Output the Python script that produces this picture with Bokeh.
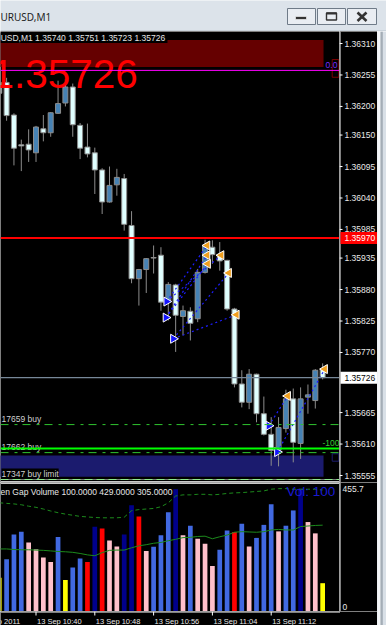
import math
from bokeh.plotting import figure
from bokeh.layouts import column, row
from bokeh.models import ColumnDataSource, Range1d, Span
from bokeh.core.properties import value
from bokeh.embed import file_html
from bokeh.resources import INLINE

FONT = "Liberation Sans"

# ------------------------------------------------------------------ data
# EURUSD one-minute bars, bar 0 = 13 Sep 2011 10:40
bar_index = list(range(-5, 40))
opens = [1.36242, 1.36242, 1.36185, 1.36133, 1.36134, 1.36119, 1.36161, 1.36154, 1.36188, 1.36206,
         1.36234, 1.36167, 1.36129, 1.36119, 1.36089, 1.36033, 1.36063, 1.36074, 1.35992, 1.35899,
         1.35915, 1.35936, 1.35940, 1.35860, 1.35888, 1.35833, 1.35842, 1.35829, 1.35910, 1.35954,
         1.35940, 1.35931, 1.35846, 1.35715, 1.35683, 1.35732, 1.35663, 1.35627, 1.35599, 1.35637,
         1.35689, 1.35611, 1.35692, 1.35686, 1.35740]
highs = [1.36250, 1.36250, 1.36188, 1.36142, 1.36160, 1.36166, 1.36185, 1.36190, 1.36245, 1.36248,
         1.36240, 1.36171, 1.36170, 1.36128, 1.36092, 1.36095, 1.36091, 1.36082, 1.36017, 1.35916,
         1.35935, 1.35957, 1.35954, 1.35893, 1.35890, 1.35852, 1.35849, 1.35916, 1.35967, 1.35966,
         1.35963, 1.35932, 1.35848, 1.35739, 1.35741, 1.35733, 1.35693, 1.35657, 1.35657, 1.35705,
         1.35707, 1.35709, 1.35714, 1.35741, 1.35751]
lows = [1.36215, 1.36175, 1.36097, 1.36087, 1.36103, 1.36103, 1.36139, 1.36147, 1.36187, 1.36200,
        1.36147, 1.36108, 1.36111, 1.36047, 1.36012, 1.36032, 1.36044, 1.35983, 1.35891, 1.35852,
        1.35874, 1.35908, 1.35843, 1.35826, 1.35771, 1.35800, 1.35791, 1.35823, 1.35908, 1.35925,
        1.35913, 1.35843, 1.35709, 1.35674, 1.35671, 1.35648, 1.35625, 1.35572, 1.35571, 1.35630,
        1.35578, 1.35584, 1.35663, 1.35672, 1.35723]
closes = [1.36223, 1.36184, 1.36127, 1.36131, 1.36124, 1.36164, 1.36154, 1.36189, 1.36205, 1.36234,
          1.36168, 1.36127, 1.36117, 1.36089, 1.36033, 1.36062, 1.36076, 1.35994, 1.35899, 1.35915,
          1.35934, 1.35935, 1.35858, 1.35889, 1.35835, 1.35843, 1.35821, 1.35910, 1.35957, 1.35941,
          1.35930, 1.35846, 1.35715, 1.35683, 1.35732, 1.35663, 1.35627, 1.35599, 1.35639, 1.35689,
          1.35613, 1.35689, 1.35696, 1.35739, 1.35726]

volumes = [119, 185, 272, 282, 244, 220, 191, 175, 263, 111,
           155, 187, 175, 299, 293, 251, 230, 272, 375, 336,
           214, 229, 269, 351, 432, 269, 303, 257, 239, 161,
           218, 286, 281, 310, 230, 260, 306, 379, 283, 303,
           357, 434, 316, 276, 100]
vol_kind = ["low", "up", "up", "up", "down", "down", "down", "down", "up", "low",
            "up", "up", "spike_down", "spike_up", "spike_down", "down", "down", "spike_up", "spike_up", "spike_down",
            "down", "up", "up", "up", "spike_up", "down", "up", "down", "down", "down",
            "up", "up", "spike_down", "up", "down", "up", "up", "up", "down", "up",
            "up", "spike_up", "down", "down", "low"]
vol_ma = [221, 221, 219, 218, 218, 217, 216, 214, 212, 211,
          209, 205, 200, 197, 208, 216, 217, 217, 225, 232,
          236, 241, 244, 250, 255, 261, 262, 265, 266, 257,
          264, 270, 280, 282, 281, 280, 282, 288, 290, 288,
          288, 300, 302, 304, 305]
vol_band = [384, 382, 380, 377, 372, 368, 362, 355, 349, 344,
            340, 336, 334, 332, 331, 331, 331, 333, 356, 360,
            362, 364, 370, 384, 408, 412, 412, 414, 414, 412,
            414, 417, 419, 420, 422, 424, 426, 432, 434, 434,
            432, 432, 432, 432, 429]
vol_max_label = 455.7
vol_header = "en Gap Volume 100.0000 429.0000 305.0000"
vol_last_text = "Vol: 100"

# time scale: bar positions of the labels
time_ticks = [-8, 0, 8, 16, 24, 32]
time_labels = ["13 Sep 2011", "13 Sep 10:40", "13 Sep 10:48", "13 Sep 10:56",
               "13 Sep 11:04", "13 Sep 11:12"]

price_ticks = [1.36310, 1.36255, 1.36200, 1.36150, 1.36095, 1.36040, 1.35985, 1.35935,
               1.35880, 1.35825, 1.35770, 1.35665, 1.35610, 1.35555]
header_text = "USD,M1  1.35740 1.35751 1.35723 1.35726"
bid_price = 1.35726
red_level = 1.35970
magenta_level = 1.36263

order_levels = [1.35644, 1.35595, 1.35548]
order_labels = ["17659 buy", "17662 buy", "17347 buy limit"]
stop_level = 1.35602
stop_label = "-100"

# trade arrows (bar position, price) and the entry -> exit links
entry_x = [17.76, 17.66, 18.67, 31.67, 32.82]
entry_p = [1.35859, 1.35831, 1.35794, 1.35642, 1.35596]
exit_x = [23.29, 23.29, 23.37, 25.20, 26.23, 27.28, 34.26, 39.29]
exit_p = [1.35957, 1.35940, 1.35925, 1.35940, 1.35909, 1.35836, 1.35694, 1.35741]
trade_links = [(0, 0), (0, 3), (1, 1), (1, 2), (2, 4), (2, 5), (3, 6), (4, 7)]

# rectangles drawn on the chart (time span in bars, price span)
top_box = dict(start=-10, end=39.12, low=1.36269, high=1.36316)
zone_box = dict(start=-10, end=39.12, low=1.35553, high=1.35590)

# ------------------------------------------------------------------ geometry
BAR_PX = 7.35                        # pixel width of one bar
X_START = -35.5 / BAR_PX             # left edge of the chart frame
X_END = X_START + 339 / BAR_PX       # right edge (frame 339 px wide)
PX_PER_PRICE = 57220.0
PRICE_TOP = 1.36310 + 12 / PX_PER_PRICE
PRICE_BOTTOM = PRICE_TOP - 451 / PX_PER_PRICE
VOL_FRAME_H = 129
px_v = vol_max_label / VOL_FRAME_H

xr = Range1d(X_START, X_END)
yr_price = Range1d(PRICE_BOTTOM, PRICE_TOP)
yr_vol = Range1d(0, vol_max_label)


def bare(width, height, xrange, yrange, bg="black"):
    p = figure(width=width, height=height, x_range=xrange, y_range=yrange,
               output_backend="svg", toolbar_location=None, x_axis_location=None,
               y_axis_location=None, min_border=0)
    p.background_fill_color = bg
    p.border_fill_color = bg
    p.outline_line_color = None
    p.grid.visible = False
    return p


# ------------------------------------------------------------------ title bar
title = bare(386, 31, Range1d(0, 386), Range1d(31, 0), "#dce3ea")
title.text(x=[0], y=[16], text=["URUSD,M1"], text_font=value("Noto Sans"),
           text_font_size="10px", text_color="#1e1e1e", text_baseline="middle")
title.quad(left=[287, 317, 347], right=[315, 345, 376], top=[8, 8, 8], bottom=[24, 24, 24],
           fill_color="#e9edf2", line_color="#6f7b88", line_width=1)
title.quad(left=[295], right=[306], top=[16], bottom=[19], fill_color="#333333",
           line_color="white", line_width=0.6)
title.quad(left=[326], right=[336], top=[12.5], bottom=[19.5], fill_color=None,
           line_color="#333333", line_width=1.4)
title.segment(x0=[326], y0=[13], x1=[336], y1=[13], line_color="#333333", line_width=2)
title.segment(x0=[357, 357], y0=[12, 20.5], x1=[366, 366], y1=[20.5, 12],
              line_color="#333333", line_width=2.6)
title.segment(x0=[0], y0=[30.5], x1=[386], y1=[30.5], line_color="#b9c3cd", line_width=1)

# ------------------------------------------------------------------ price pane
main = bare(339, 451, xr, yr_price)

main.quad(left=[top_box["start"]], right=[top_box["end"]], bottom=[top_box["low"]],
          top=[top_box["high"]], fill_color="#650000", line_color=None)
main.quad(left=[zone_box["start"]], right=[zone_box["end"]], bottom=[zone_box["low"]],
          top=[zone_box["high"]], fill_color="#1b1b6e", line_color=None)
main.quad(left=[40.3], right=[41.2], bottom=[1.36251], top=[1.36282], fill_color=None,
          line_color="#7a0000", line_width=1)
main.quad(left=[40.3], right=[41.2], bottom=[1.35580], top=[1.35593], fill_color=None,
          line_color="#1b1b6e", line_width=1)

main.add_layout(Span(location=magenta_level, dimension="width", line_color="#ff00ff", line_width=1))
main.add_layout(Span(location=red_level, dimension="width", line_color="#ff0000", line_width=2))
main.add_layout(Span(location=bid_price, dimension="width", line_color="#778899", line_width=1.2))
main.add_layout(Span(location=order_levels[0], dimension="width", line_color="#2fc42f",
                     line_width=1, line_dash="8 6 3 5"))
main.add_layout(Span(location=stop_level, dimension="width", line_color="#00ff00", line_width=2))
main.add_layout(Span(location=order_levels[1], dimension="width", line_color="#2fc42f",
                     line_width=1, line_dash="8 6 3 5"))
main.add_layout(Span(location=order_levels[2], dimension="width", line_color="#7d7d7d", line_width=1))
main.add_layout(Span(location=order_levels[2], dimension="width", line_color="#90ee90",
                     line_width=1, line_dash="8 4"))
main.add_layout(Span(location=PRICE_BOTTOM, dimension="width", line_color="#c8c8c8", line_width=3))

# candles
bull = [c >= o for o, c in zip(opens, closes)]
csrc = ColumnDataSource(dict(
    x=bar_index, high=highs, low=lows,
    top=[max(o, c) for o, c in zip(opens, closes)],
    bottom=[min(o, c) for o, c in zip(opens, closes)],
    fill=["#4682b4" if b else "#e0ffff" for b in bull]))
main.segment(x0="x", y0="low", x1="x", y1="high", source=csrc, line_color="#8c8c8c", line_width=1)
main.vbar(x="x", width=0.68, top="top", bottom="bottom", fill_color="fill", source=csrc,
          line_color="#8c8c8c", line_width=1)

# trades
tsrc = ColumnDataSource(dict(
    x0=[entry_x[a] for a, b in trade_links], y0=[entry_p[a] for a, b in trade_links],
    x1=[exit_x[b] for a, b in trade_links], y1=[exit_p[b] for a, b in trade_links]))
main.segment(x0="x0", y0="y0", x1="x1", y1="y1", source=tsrc, line_color="#1e1eff",
             line_width=1.2, line_dash="2 3")
main.scatter(x=entry_x, y=entry_p, marker="triangle", size=9, angle=-math.pi / 2,
             fill_color="#1414ff", line_color="white", line_width=1)
main.scatter(x=exit_x, y=exit_p, marker="triangle", size=9, angle=math.pi / 2,
             fill_color="#f0a020", line_color="white", line_width=1)

# texts
main.text(x=[X_START + 0.02], y=[1.363196], text=[header_text], text_font=value(FONT),
          text_font_size="8.5px", text_color="#e6e6e6", text_baseline="middle",
          background_fill_color="black")
main.text(x=[X_START - 9 / BAR_PX], y=[1.362567], text=["1.35726"], text_font=value(FONT),
          text_font_size="40.5px", text_color="#ff0000", text_baseline="middle")
main.text(x=[39.4], y=[1.36273], text=["0.0"], text_font=value(FONT), text_font_size="8.5px",
          text_color="#7b2cff", text_baseline="middle")
lbl_x = X_START + 1 / BAR_PX
main.text(x=[lbl_x] * 2, y=order_levels[:2], text=order_labels[:2], text_font=value(FONT),
          text_font_size="8.5px", text_color="#cfcfcf", text_baseline="bottom", y_offset=-1)
main.text(x=[lbl_x], y=[order_levels[2]], text=[order_labels[2]], text_font=value(FONT),
          text_font_size="8.5px", text_color="#cfcfcf", text_baseline="bottom", y_offset=-1,
          background_fill_color="black")
main.text(x=[38.98], y=[1.35611], text=[stop_label], text_font=value(FONT), text_font_size="8.5px",
          text_color="#33cc33", text_baseline="middle")

# ------------------------------------------------------------------ price scale strip
pstrip = bare(38, 451, Range1d(0, 38), yr_price)
pstrip.segment(x0=[0.5], y0=[PRICE_BOTTOM], x1=[0.5], y1=[PRICE_TOP], line_color="white",
               line_width=1)
pstrip.segment(x0=0, y0=price_ticks, x1=3, y1=price_ticks, line_color="white", line_width=1)
pstrip.text(x=5, y=price_ticks, text=[f"{t:.5f}" for t in price_ticks], text_font=value(FONT),
            text_font_size="8.5px", text_color="#e8e8e8", text_baseline="middle")
half_box = 6 / PX_PER_PRICE
pstrip.quad(left=[1, 1], right=[38, 38], bottom=[red_level - half_box, bid_price - half_box],
            top=[red_level + half_box, bid_price + half_box],
            fill_color=["#ff0000", "white"], line_color=None)
pstrip.text(x=5, y=[red_level, bid_price], text=[f"{red_level:.5f}", f"{bid_price:.5f}"],
            text_font=value(FONT), text_font_size="8.5px", text_color=["white", "black"],
            text_baseline="middle")

# ------------------------------------------------------------------ volume pane
vol = bare(339, VOL_FRAME_H, xr, yr_vol)
kind_color = {"up": "#4169e1", "down": "#ffc0cb", "spike_up": "#00008b",
              "spike_down": "#ff0000", "low": "#ffff00"}
vol.vbar(x=bar_index, top=volumes, width=0.64, fill_color=[kind_color[k] for k in vol_kind],
         line_color=None)
vol.line(bar_index, vol_ma, line_color="#1c8a1c", line_width=1)
vol.line(bar_index, vol_band, line_color="#1c8a1c", line_width=1, line_dash="4 3")
vol.add_layout(Span(location=vol_max_label, dimension="width", line_color="#c8c8c8", line_width=3))
vol.text(x=[X_START], y=[vol_max_label - 9.5 * px_v], text=[vol_header], text_font=value(FONT),
         text_font_size="8.5px", text_color="#e6e6e6", text_baseline="middle")
vol.text(x=[34.08], y=[vol_max_label - 9 * px_v], text=[vol_last_text], text_font=value(FONT),
         text_font_size="13.5px", text_color="#1a1ad2", text_baseline="middle")

# volume scale strip
vstrip = bare(38, VOL_FRAME_H, Range1d(0, 38), yr_vol)
vstrip.segment(x0=[0.5], y0=[0], x1=[0.5], y1=[vol_max_label], line_color="white", line_width=1)
vstrip.text(x=3, y=[vol_max_label - 6 * px_v, 5 * px_v], text=[f"{vol_max_label}", "0"],
            text_font=value(FONT), text_font_size="8.5px", text_color="#e8e8e8",
            text_baseline="middle")

# ------------------------------------------------------------------ time scale
timefig = bare(377, 14, Range1d(X_START, X_START + 377 / BAR_PX), Range1d(14, 0))
timefig.segment(x0=[X_START], y0=[0.5], x1=[X_END + 0.5 / BAR_PX], y1=[0.5],
                line_color="white", line_width=1)
timefig.segment(x0=time_ticks, y0=0, x1=time_ticks, y1=4, line_color="white", line_width=1)
timefig.text(x=time_ticks, y=5, text=time_labels, text_font=value(FONT),
             text_font_size="7.5px", text_color="#e8e8e8", text_baseline="top",
             text_align="left", x_offset=1)

# ------------------------------------------------------------------ window frame stripe
stripe = bare(9, 594, Range1d(0, 9), Range1d(0, 594), "#d9e0e7")
stripe.quad(left=[0, 3], right=[3, 5.3], bottom=[0, 0], top=[594, 594],
            fill_color=["#f4f6f8", "#a4adb6"], line_color=None)

panes = column(row(main, pstrip, spacing=0), row(vol, vstrip, spacing=0), timefig, spacing=0)
layout = column(title, row(panes, stripe, spacing=0), spacing=0)
open("out.html", "w").write(file_html(layout, INLINE))
